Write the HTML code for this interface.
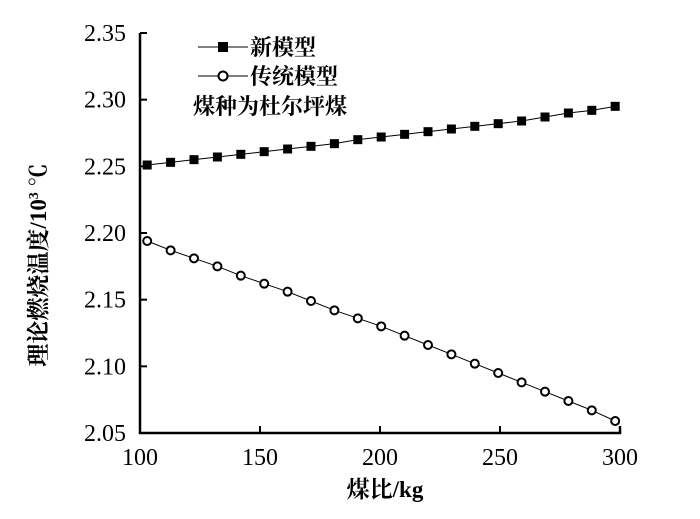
<!DOCTYPE html>
<html><head><meta charset="utf-8"><style>
body{margin:0;background:#fff;}
svg text{font-family:"Liberation Serif","Noto Serif CJK SC",serif;fill:#000;}
</style></head><body>
<svg id="chart" width="700" height="514" xmlns="http://www.w3.org/2000/svg">
<g id="axes"></g>
<g id="marks"></g>
<g>
 <line x1="198" y1="47" x2="248" y2="47" stroke="#000" stroke-width="1"/>
 <rect x="218" y="42" width="10" height="10" fill="#000"/>
 <text x="250" y="55" font-size="22" font-weight="bold">新模型</text>
 <line x1="198" y1="76" x2="248" y2="76" stroke="#000" stroke-width="1"/>
 <circle cx="223" cy="76" r="4.5" fill="#fff" stroke="#000" stroke-width="2"/>
 <text x="250" y="84" font-size="22" font-weight="bold">传统模型</text>
 <text x="193" y="114" font-size="22" font-weight="bold">煤种为杜尔坪煤</text>
</g>
<text x="385" y="497" font-size="23" text-anchor="middle" font-weight="bold">煤比/kg</text>
<text transform="translate(46,265) rotate(-90)" font-size="23" text-anchor="middle" font-weight="bold">理论燃烧温度/10<tspan font-size="14" dy="-8">3</tspan><tspan dy="8"> ℃</tspan></text>
</svg>
<script>
const kgValues=[103,112.75,122.5,132.25,142,151.75,161.5,171.25,181,190.75,200.5,210.25,220,229.75,239.5,249.25,259,268.75,278.5,288.25,298];
const newModel=[2.251,2.253,2.255,2.257,2.259,2.261,2.263,2.265,2.267,2.270,2.272,2.274,2.276,2.278,2.280,2.282,2.284,2.287,2.290,2.292,2.295];
const tradModel=[2.194,2.187,2.181,2.175,2.168,2.162,2.156,2.149,2.142,2.136,2.130,2.123,2.116,2.109,2.102,2.095,2.088,2.081,2.074,2.067,2.059];
const xTicks=[100,150,200,250,300];
const yTicks=[2.05,2.10,2.15,2.20,2.25,2.30,2.35];
const yTickLabels=["2.05","2.10","2.15","2.20","2.25","2.30","2.35"];
const X0=140,X1=620,Y0=433,Y1=33;
const xs=v=>X0+(v-100)/200*(X1-X0);
const ys=v=>Y0-(v-2.05)/0.30*(Y0-Y1);
const NS="http://www.w3.org/2000/svg";
function mk(tag,attrs,parent){const e=document.createElementNS(NS,tag);for(const k in attrs)e.setAttribute(k,attrs[k]);parent.appendChild(e);return e;}
const axes=document.getElementById('axes'),marks=document.getElementById('marks');
let a=mk('path',{d:`M${X0},${Y1}V${Y0}H${X1}V${Y0-7}`,fill:'none',stroke:'#000','stroke-width':2.5},axes);


xTicks.forEach(t=>{
 const l=mk('line',{x1:xs(t),x2:xs(t),y1:Y0,y2:Y0-7,stroke:'#000','stroke-width':2},axes);
 
 
 const tx=mk('text',{x:xs(t),y:Y0+32,'font-size':24,'text-anchor':'middle'},axes);tx.textContent=t;
 
 
});
yTicks.forEach((t,i)=>{
 const l=mk('line',{x1:X0,x2:X0+7,y1:ys(t),y2:ys(t),stroke:'#000','stroke-width':2},axes);
 
 
 const tx=mk('text',{x:X0-14,y:ys(t)+8,'font-size':24,'text-anchor':'end'},axes);tx.textContent=yTickLabels[i];
 
 
});
function series(vals,kind){
 const p=mk('polyline',{points:kgValues.map((k,i)=>xs(k)+','+ys(vals[i])).join(' '),fill:'none',stroke:'#000','stroke-width':1},marks);
 
 
 kgValues.forEach((k,i)=>{
  let m;
  if(kind==='new-model') m=mk('rect',{x:xs(k)-4.5,y:ys(vals[i])-4.5,width:9,height:9,fill:'#000'},marks);
  else m=mk('circle',{cx:xs(k),cy:ys(vals[i]),r:4,fill:'#fff',stroke:'#000','stroke-width':2},marks);
  
  
 });
}
series(newModel,'new-model');
series(tradModel,'traditional-model');
</script>
</body></html>
